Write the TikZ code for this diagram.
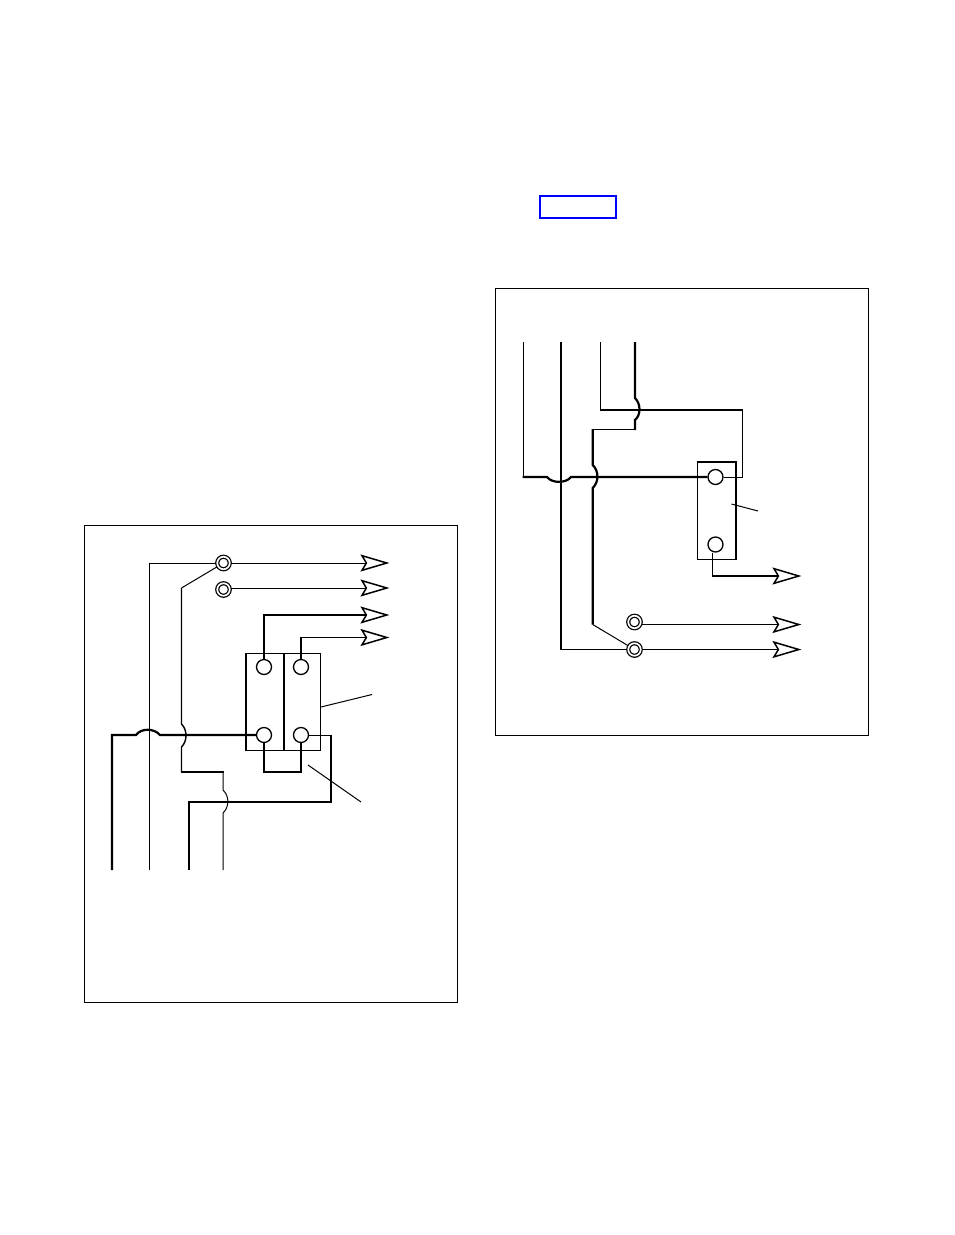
\documentclass[tikz,border=0pt]{standalone}
\usepackage{xcolor}
\usetikzlibrary{arrows.meta,positioning}
\tikzset{
  wire/.style={line width=1pt},
  heavy/.style={line width=2.2pt},
  panel/.style={line width=1pt},
  pin/.style={circle,draw,line width=1.3pt,minimum size=15pt,inner sep=0pt},
  post/.style={circle,draw,line width=1.25pt,double,double distance=1.7pt,minimum size=12.5pt,inner sep=0pt,outer sep=1.25pt},
  blockbox/.style={rectangle,draw,line width=1pt,inner sep=0pt},
  lead/.style={-{Stealth[open,length=29pt,width=17pt,inset=5pt,line width=1.5pt]}},
}
\begin{document}
\begin{tikzpicture}[x=1pt,y=-1pt]
  \useasboundingbox (0,0) rectangle (954,1235);

  % Blue box
  \draw[blue,line width=1.5pt] (540,196) rectangle (616,218);

  % Panels
  \draw[panel] (84.5,525.5) rectangle (457.5,1002.5);
  \draw[panel] (495.5,288.5) rectangle (868.5,735.5);

  % Left block
  \node[blockbox,minimum width=37pt,minimum height=97pt] (lbox1) at (264.5,701.5) {};
  \node[blockbox,minimum width=37.5pt,minimum height=97pt] (lbox2) at (301.75,701.5) {};
  \draw[line width=2pt] (lbox1.south west) -- (lbox1.north west);
  \draw[line width=2pt] (lbox1.south east) -- (lbox1.north east);
  \node[pin] (lpin1) at (264,667) {};
  \node[pin] (lpin2) at (301,667) {};
  \node[pin] (lpin3) at (264,735) {};
  \node[pin] (lpin4) at (301,735) {};
  \node[post] (lpost1) at (223.5,563) {};
  \node[post] (lpost2) at (223.5,589.5) {};

  \coordinate (lfoot1) at (112,870);
  \coordinate (lfoot2) at (149.5,870);
  \coordinate (lfoot3) at (189,870);
  \coordinate (lfoot4) at (223,870);
  \coordinate (lbend) at (181.5,588);
  \coordinate (ltip1) at (389.5,563);
  \coordinate (ltip2) at (389.5,588);
  \coordinate (ltip3) at (389.5,615);
  \coordinate (ltip4) at (389.5,637.5);
  \coordinate (ltag1) at (372,694.5);
  \coordinate (ltag2) at (361,802);
  \coordinate (ltag3) at (308,765);

  % Left wires
  \draw[wire] (lfoot2) |- (lpost1);
  \draw[wire,lead] (lpost1) -- (ltip1);
  \draw[wire,lead] (lpost2.east |- ltip2) -- (ltip2);
  \draw[wire] (lpost1) -- (lbend);
  \draw[heavy,lead] (lpin1) |- (ltip3);
  \draw[wire,line width=1.4pt,lead] (lpin2) |- (ltip4);
  \draw[heavy] (lfoot1) |- (136,735) .. controls (141,728) and (154,728) .. (160,735) -- (lpin3);
  \draw[line width=1.4pt] (lbend) -- (181.5,724) .. controls (187.5,730) and (187.5,741) .. (181.5,747) -- (181.5,772);
  \draw[heavy] (180.5,772) -- (224,772);
  \draw[wire] (223,772) -- (223,790) .. controls (229.5,796) and (229.5,807) .. (223,813) -- (lfoot4);
  \draw[heavy] (lpin3) |- (301,772) -- (lpin4);
  \draw[wire] (lpin4) -- (331,735);
  \draw[heavy] (331,735) |- (189,802) -- (lfoot3);
  \draw[wire] ([yshift=-5.5pt]lbox2.east) -- (ltag1);
  \draw[wire] (ltag3) -- (ltag2);

  % Right block
  \node[blockbox,minimum width=37.5pt,minimum height=97pt] (rbox) at (716.25,510.5) {};
  \draw[line width=2pt] (rbox.north west) -- (rbox.north east) -- (rbox.south east);
  \node[pin] (rpin1) at (715.5,477) {};
  \node[pin] (rpin2) at (715.5,544.5) {};
  \node[post] (rpost1) at (634.5,622) {};
  \node[post] (rpost2) at (634.5,649.5) {};

  \coordinate (rtop1) at (523.5,342);
  \coordinate (rtop2) at (561,342);
  \coordinate (rtop3) at (600.5,342);
  \coordinate (rtop4) at (635,342);
  \coordinate (rbend) at (592.7,624.5);
  \coordinate (rtip1) at (801.5,576);
  \coordinate (rtip2) at (801.5,624.5);
  \coordinate (rtip3) at (801.5,649.5);
  \coordinate (rtag1) at (731.5,504);
  \coordinate (rtag2) at (758,511);

  % Right wires
  \draw[wire] (rtop1) -- (523.5,477);
  \draw[heavy] (522.5,477) -- (547,477) .. controls (552,483.5) and (566,483.5) .. (571,477) -- (592.7,477) -- (rpin1);
  \draw[heavy] (rtop2) -- (561,649.5);
  \draw[wire,line width=1.4pt] (560,649.5) -- (rpost2);
  \draw[wire] (rtop3) |- (601,410);
  \draw[heavy] (600,410) -- (742.5,410);
  \draw[wire] (742,409) |- (rpin1);
  \draw[heavy] (rtop4) -- (635,398) .. controls (641,404) and (641,415) .. (635,420) -- (635,430);
  \draw[wire] (635,429.5) -- (592.7,429.5);
  \draw[heavy] (592.7,429) -- (592.7,465) .. controls (599,471) and (599,482) .. (592.7,488) -- (rbend);
  \draw[wire] (rbend) -- (rpost2);
  \draw[wire,lead] (rpost1.east |- rtip2) -- (rtip2);
  \draw[wire,lead] (rpost2) -- (rtip3);
  \draw[wire] (rpin2.south -| 712.7,0) -- (712.7,576);
  \draw[heavy,lead] (712,576) -- (rtip1);
  \draw[wire] (rtag1) -- (rtag2);
\end{tikzpicture}
\end{document}
